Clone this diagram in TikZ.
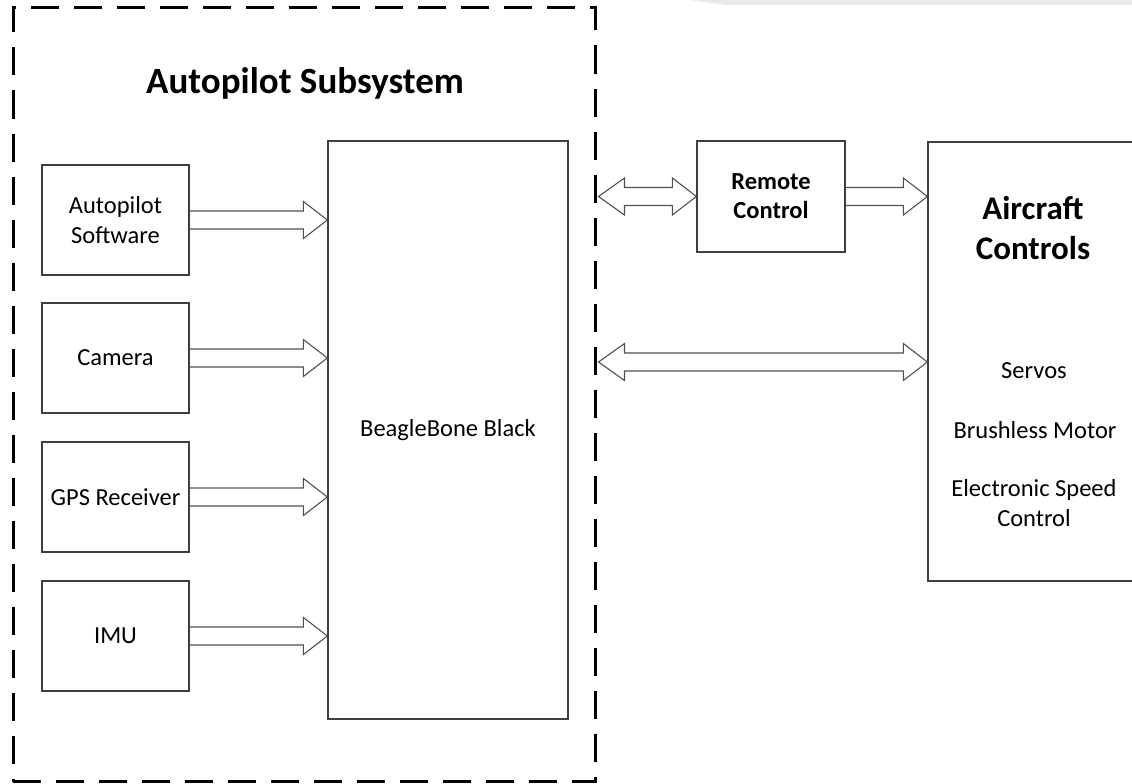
\documentclass[tikz,border=0pt]{standalone}
\usepackage{fontspec}
\setmainfont{Carlito}
\usetikzlibrary{calc}
\definecolor{boxgray}{HTML}{3F3F3F}
\definecolor{arrgray}{HTML}{505050}
\definecolor{bandgray}{HTML}{E9E9E9}
\tikzset{
  blk/.style={draw=boxgray, line width=1.3pt, fill=white, inner sep=0pt, font=\fontsize{24.5}{30}\selectfont, align=center},
  lbl/.style={inner sep=0pt, font=\fontsize{24.5}{30}\selectfont, align=center},
  barrow/.style={draw=arrgray, line width=1.1pt, line join=miter},
  framebox/.style={draw=black, line width=3pt, dash pattern=on 28pt off 15pt, inner sep=0pt, minimum width=582pt, minimum height=774pt},
}
\newcommand\sarrow[2]{%
  \draw[barrow] let \p1=(#1), \p2=(#2) in
    (\x1,\y1+9pt) -- (\x2-24pt,\y1+9pt) -- (\x2-24pt,\y1+18.5pt) -- (\x2,\y1)
    -- (\x2-24pt,\y1-18.5pt) -- (\x2-24pt,\y1-9pt) -- (\x1,\y1-9pt);}
\newcommand\darrow[2]{%
  \draw[barrow] let \p1=(#1), \p2=(#2) in
    (\x1,\y1) -- (\x1+26pt,\y1+18.5pt) -- (\x1+26pt,\y1+9pt) -- (\x2-24pt,\y1+9pt)
    -- (\x2-24pt,\y1+18.5pt) -- (\x2,\y1) -- (\x2-24pt,\y1-18.5pt) -- (\x2-24pt,\y1-9pt)
    -- (\x1+26pt,\y1-9pt) -- (\x1+26pt,\y1-18.5pt) -- cycle;}
\begin{document}
\begin{tikzpicture}[x=1pt,y=-1pt]
\useasboundingbox (0,0) rectangle (1132,784);
\clip (0,0) rectangle (1132,784);
\fill[bandgray] (690,0) -- (727,5) -- (1132,5) -- (1132,0) -- cycle;

% dashed subsystem frame
\node[framebox] (frame) at (304,394.5) {};
\node[inner sep=0pt, font=\fontsize{37}{40}\selectfont\bfseries, anchor=base] (title) at (305,93) {Autopilot Subsystem};

% sensor blocks
\node[blk, minimum width=147pt, minimum height=110pt] (sw) at (115.5,220) {Autopilot\\Software};
\node[blk, minimum width=147pt, minimum height=110pt] (cam) at (115.5,358) {Camera};
\node[blk, minimum width=147pt, minimum height=110pt] (gps) at (115.5,497) {GPS Receiver};
\node[blk, minimum width=147pt, minimum height=110pt] (imu) at (115.5,636) {IMU};

% BeagleBone
\node[blk, minimum width=240pt, minimum height=578pt] (bbb) at (448,430) {BeagleBone Black};

% remote control
\node[blk, minimum width=148pt, minimum height=111pt, font=\fontsize{24.5}{29}\selectfont\bfseries] (rc) at (771,196.5) {Remote\\Control};

% aircraft controls
\node[blk, minimum width=210pt, minimum height=439pt] (ac) at (1033,361.5) {};
\node[lbl, font=\fontsize{33}{40}\selectfont\bfseries] (actitle) at (1033,228) {Aircraft\\Controls};
\node[lbl] (servos) at (1034,371) {Servos};
\node[lbl] (motor) at (1035,430) {Brushless Motor};
\node[lbl] (esc) at (1034,503.5) {Electronic Speed\\Control};

% arrows
\sarrow{sw.east}{bbb.west |- sw.east}
\sarrow{cam.east}{bbb.west |- cam.east}
\sarrow{gps.east}{bbb.west |- gps.east}
\sarrow{imu.east}{bbb.west |- imu.east}
\coordinate (fr1) at ($(frame.east |- rc.west)+(2,0)$);
\darrow{fr1}{rc.west}
\sarrow{rc.east}{ac.west |- rc.east}
\coordinate (fr2) at ($(frame.east)+(2,0)$);
\coordinate (fr2) at (fr2 |- 0,362);
\coordinate (ac2) at (ac.west |- 0,362);
\darrow{fr2}{ac2}
\end{tikzpicture}
\end{document}
